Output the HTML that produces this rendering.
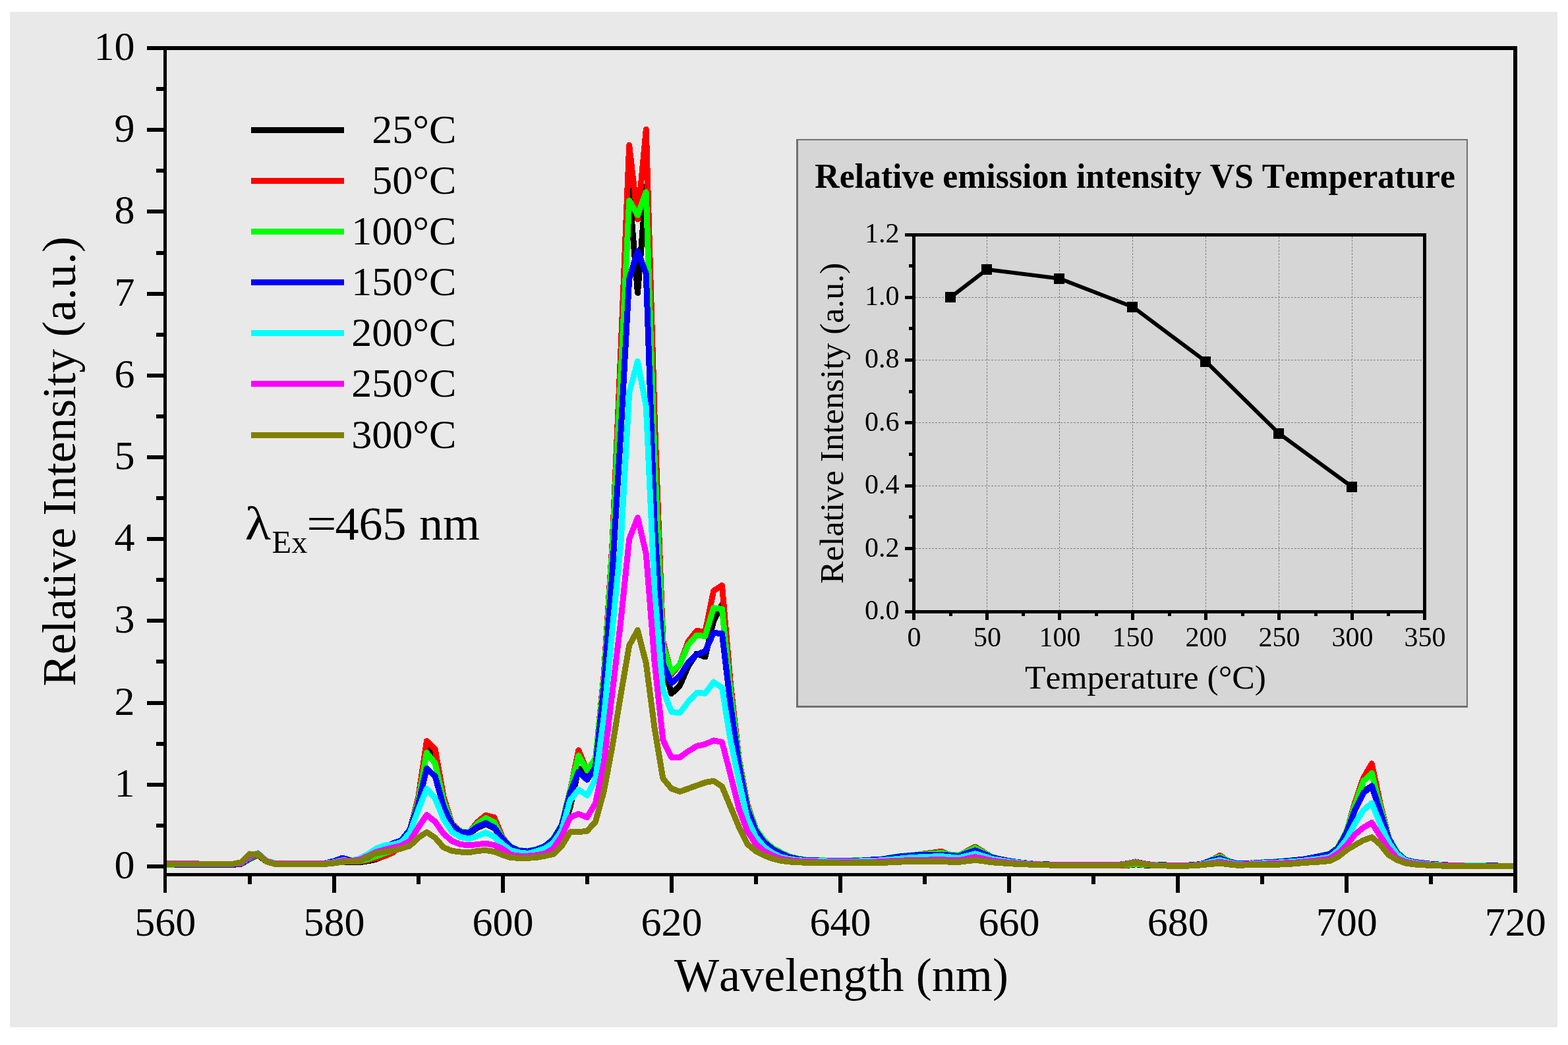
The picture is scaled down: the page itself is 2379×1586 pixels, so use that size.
<!DOCTYPE html>
<html lang="en"><head><meta charset="utf-8"><title>Relative Intensity vs Wavelength</title>
<style>html,body{margin:0;padding:0;background:#fff;overflow:hidden;}body{width:2379px;height:1586px;overflow:hidden;}svg{display:block;}text{font-family:'Liberation Serif', serif;fill:#000;font-kerning:none;font-variant-ligatures:none;}</style></head><body>
<svg width="2379" height="1586" viewBox="0 0 2379 1586">
<rect x="0" y="0" width="2379" height="1586" fill="#ffffff"/>
<rect x="15" y="18" width="2348" height="1541" fill="#e9e9e9"/>
<defs><clipPath id="pc"><rect x="253" y="76" width="2043" height="1249"/></clipPath></defs>
<g clip-path="url(#pc)" fill="none" stroke-width="9" stroke-linejoin="round" stroke-linecap="round" shape-rendering="crispEdges">
<polyline stroke="#000000" points="250.5,1312.5 263.3,1312.5 276.1,1312.5 288.9,1312.5 301.7,1312.5 314.5,1312.5 327.3,1312.5 340.1,1312.5 352.9,1312.5 365.7,1311.3 378.5,1303.8 391.3,1297.6 404.1,1307.5 416.9,1311.3 429.7,1311.3 442.5,1311.3 455.3,1311.3 468.2,1311.3 481.0,1311.3 493.8,1311.3 506.6,1310.0 519.4,1308.2 532.2,1308.8 545.0,1308.8 557.8,1306.9 570.6,1304.4 583.4,1298.2 596.2,1292.6 609.0,1284.0 621.8,1262.8 634.6,1215.6 647.4,1134.9 660.2,1153.5 673.0,1225.6 685.8,1252.9 698.6,1263.5 711.4,1265.3 724.2,1256.6 737.0,1250.4 749.8,1256.6 762.6,1274.0 775.4,1286.4 788.2,1292.0 801.0,1292.6 813.8,1290.2 826.6,1285.2 839.4,1275.3 852.2,1260.4 865.0,1225.6 877.8,1166.0 890.7,1178.4 903.5,1159.8 916.3,1035.5 929.1,843.0 941.9,582.2 954.7,287.9 967.5,444.4 980.3,282.9 993.1,706.4 1005.9,1004.5 1018.7,1052.9 1031.5,1040.5 1044.3,1010.7 1057.1,992.1 1069.9,997.0 1082.7,942.4 1095.5,917.6 1108.3,1060.4 1121.1,1158.5 1133.9,1225.6 1146.7,1260.4 1159.5,1279.0 1172.3,1289.5 1185.1,1296.4 1197.9,1301.3 1210.7,1304.4 1223.5,1305.7 1236.3,1306.0 1249.1,1306.4 1261.9,1306.7 1274.7,1307.1 1287.5,1306.6 1300.3,1306.2 1313.1,1305.7 1326.0,1305.3 1338.8,1304.6 1351.6,1302.6 1364.4,1300.7 1377.2,1299.5 1390.0,1298.5 1402.8,1297.9 1415.6,1297.6 1428.4,1297.4 1441.2,1298.9 1454.0,1300.1 1466.8,1295.7 1479.6,1291.4 1492.4,1296.4 1505.2,1302.0 1518.0,1304.4 1530.8,1306.9 1543.6,1308.8 1556.4,1310.0 1569.2,1312.2 1582.0,1312.6 1594.8,1313.0 1607.6,1313.1 1620.4,1313.2 1633.2,1313.2 1646.0,1313.3 1658.8,1313.4 1671.6,1313.4 1684.4,1313.4 1697.2,1313.4 1710.0,1313.5 1722.8,1311.8 1735.6,1313.0 1748.5,1313.4 1761.3,1313.7 1774.1,1314.0 1786.9,1314.3 1799.7,1313.9 1812.5,1313.6 1825.3,1311.3 1838.1,1306.3 1850.9,1301.3 1863.7,1308.2 1876.5,1311.0 1889.3,1311.3 1902.1,1310.5 1914.9,1309.7 1927.7,1309.0 1940.5,1308.3 1953.3,1307.2 1966.1,1305.9 1978.9,1304.4 1991.7,1302.0 2004.5,1299.5 2017.3,1297.0 2030.1,1288.3 2042.9,1265.3 2055.7,1228.1 2068.5,1200.7 2081.3,1193.3 2094.1,1230.5 2106.9,1274.0 2119.7,1295.1 2132.5,1305.7 2145.3,1308.8 2158.1,1310.2 2170.9,1311.5 2183.8,1312.5 2196.6,1313.5 2209.4,1313.6 2222.2,1313.7 2235.0,1313.8 2247.8,1313.9 2260.6,1314.1 2273.4,1314.2 2286.2,1314.3 2299.0,1314.4"/>
<polyline stroke="#ff0000" points="250.5,1312.5 263.3,1312.5 276.1,1312.5 288.9,1312.5 301.7,1312.5 314.5,1312.5 327.3,1312.5 340.1,1312.5 352.9,1312.5 365.7,1311.3 378.5,1302.6 391.3,1296.4 404.1,1306.9 416.9,1310.7 429.7,1310.7 442.5,1310.7 455.3,1310.7 468.2,1310.7 481.0,1310.7 493.8,1310.7 506.6,1309.4 519.4,1307.5 532.2,1307.5 545.0,1307.5 557.8,1305.7 570.6,1302.6 583.4,1299.5 596.2,1293.9 609.0,1282.7 621.8,1260.4 634.6,1210.7 647.4,1124.7 660.2,1137.0 673.0,1209.4 685.8,1250.4 698.6,1261.6 711.4,1264.1 724.2,1247.9 737.0,1237.3 749.8,1240.5 762.6,1271.5 775.4,1285.8 788.2,1291.4 801.0,1292.0 813.8,1289.5 826.6,1284.6 839.4,1274.0 852.2,1252.9 865.0,1200.7 877.8,1138.6 890.7,1169.7 903.5,1153.5 916.3,1023.1 929.1,824.4 941.9,532.5 954.7,220.2 967.5,332.6 980.3,196.5 993.1,631.9 1005.9,973.5 1018.7,1023.1 1031.5,1008.2 1044.3,973.5 1057.1,957.3 1069.9,959.2 1082.7,896.7 1095.5,888.5 1108.3,1036.8 1121.1,1151.1 1133.9,1220.6 1146.7,1257.9 1159.5,1276.5 1172.3,1287.7 1185.1,1294.5 1197.9,1300.5 1210.7,1303.2 1223.5,1305.1 1236.3,1305.5 1249.1,1305.9 1261.9,1306.4 1274.7,1306.8 1287.5,1306.4 1300.3,1305.9 1313.1,1305.5 1326.0,1305.1 1338.8,1304.1 1351.6,1301.6 1364.4,1299.6 1377.2,1298.9 1390.0,1297.4 1402.8,1295.7 1415.6,1294.1 1428.4,1292.3 1441.2,1297.6 1454.0,1298.9 1466.8,1291.9 1479.6,1285.2 1492.4,1293.1 1505.2,1301.1 1518.0,1304.1 1530.8,1306.8 1543.6,1308.5 1556.4,1310.0 1569.2,1311.9 1582.0,1312.4 1594.8,1312.8 1607.6,1312.8 1620.4,1312.9 1633.2,1313.0 1646.0,1313.1 1658.8,1313.1 1671.6,1313.1 1684.4,1313.1 1697.2,1313.1 1710.0,1313.1 1722.8,1311.3 1735.6,1312.5 1748.5,1313.1 1761.3,1313.4 1774.1,1313.7 1786.9,1314.0 1799.7,1313.7 1812.5,1313.4 1825.3,1310.9 1838.1,1305.7 1850.9,1298.2 1863.7,1307.5 1876.5,1310.7 1889.3,1310.8 1902.1,1309.5 1914.9,1309.3 1927.7,1308.7 1940.5,1307.9 1953.3,1306.8 1966.1,1305.6 1978.9,1304.1 1991.7,1301.6 2004.5,1299.1 2017.3,1296.6 2030.1,1287.4 2042.9,1262.8 2055.7,1218.1 2068.5,1180.9 2081.3,1158.9 2094.1,1219.4 2106.9,1270.9 2119.7,1293.9 2132.5,1305.3 2145.3,1308.4 2158.1,1310.0 2170.9,1311.5 2183.8,1312.5 2196.6,1313.4 2209.4,1313.5 2222.2,1313.6 2235.0,1313.8 2247.8,1313.9 2260.6,1314.0 2273.4,1314.1 2286.2,1314.3 2299.0,1314.4"/>
<polyline stroke="#00ff00" points="250.5,1312.5 263.3,1312.5 276.1,1312.5 288.9,1312.5 301.7,1312.5 314.5,1312.5 327.3,1312.5 340.1,1312.5 352.9,1312.5 365.7,1311.3 378.5,1302.6 391.3,1295.7 404.1,1306.9 416.9,1310.7 429.7,1310.7 442.5,1310.7 455.3,1310.7 468.2,1310.7 481.0,1310.7 493.8,1310.7 506.6,1309.4 519.4,1307.5 532.2,1307.5 545.0,1307.5 557.8,1303.8 570.6,1299.5 583.4,1295.1 596.2,1290.8 609.0,1281.5 621.8,1260.4 634.6,1215.6 647.4,1142.4 660.2,1158.5 673.0,1215.6 685.8,1251.7 698.6,1262.2 711.4,1263.5 724.2,1250.4 737.0,1241.7 749.8,1247.9 762.6,1272.8 775.4,1285.2 788.2,1290.8 801.0,1291.4 813.8,1288.9 826.6,1284.0 839.4,1273.4 852.2,1251.7 865.0,1199.5 877.8,1146.7 890.7,1169.1 903.5,1151.1 916.3,1029.3 929.1,830.6 941.9,569.8 954.7,304.4 967.5,326.4 980.3,291.6 993.1,694.0 1005.9,979.7 1018.7,1020.6 1031.5,1008.2 1044.3,978.4 1057.1,964.1 1069.9,965.6 1082.7,922.8 1095.5,924.3 1108.3,1049.2 1121.1,1153.5 1133.9,1223.1 1146.7,1257.9 1159.5,1275.9 1172.3,1287.1 1185.1,1293.9 1197.9,1300.1 1210.7,1303.0 1223.5,1305.1 1236.3,1305.5 1249.1,1305.9 1261.9,1306.3 1274.7,1306.7 1287.5,1306.2 1300.3,1305.7 1313.1,1305.3 1326.0,1304.8 1338.8,1303.9 1351.6,1301.5 1364.4,1299.5 1377.2,1298.6 1390.0,1297.2 1402.8,1296.4 1415.6,1295.5 1428.4,1294.4 1441.2,1297.0 1454.0,1298.2 1466.8,1292.6 1479.6,1286.8 1492.4,1293.6 1505.2,1300.8 1518.0,1303.9 1530.8,1306.7 1543.6,1308.5 1556.4,1310.0 1569.2,1311.8 1582.0,1312.2 1594.8,1312.6 1607.6,1312.7 1620.4,1312.8 1633.2,1312.9 1646.0,1312.9 1658.8,1313.0 1671.6,1313.0 1684.4,1313.0 1697.2,1313.0 1710.0,1312.8 1722.8,1310.8 1735.6,1312.3 1748.5,1313.0 1761.3,1313.3 1774.1,1313.6 1786.9,1313.9 1799.7,1313.6 1812.5,1313.3 1825.3,1310.7 1838.1,1305.1 1850.9,1300.1 1863.7,1306.6 1876.5,1310.4 1889.3,1310.7 1902.1,1309.9 1914.9,1308.9 1927.7,1308.3 1940.5,1307.5 1953.3,1306.4 1966.1,1305.2 1978.9,1303.8 1991.7,1301.3 2004.5,1298.7 2017.3,1296.1 2030.1,1285.8 2042.9,1261.6 2055.7,1221.8 2068.5,1185.8 2081.3,1173.5 2094.1,1224.3 2106.9,1271.5 2119.7,1293.3 2132.5,1305.1 2145.3,1308.2 2158.1,1309.7 2170.9,1311.3 2183.8,1312.3 2196.6,1313.3 2209.4,1313.4 2222.2,1313.5 2235.0,1313.7 2247.8,1313.8 2260.6,1314.0 2273.4,1314.1 2286.2,1314.2 2299.0,1314.4"/>
<polyline stroke="#0000ff" points="250.5,1311.9 263.3,1312.0 276.1,1312.1 288.9,1312.1 301.7,1312.2 314.5,1312.3 327.3,1312.4 340.1,1312.4 352.9,1312.5 365.7,1311.3 378.5,1301.3 391.3,1295.1 404.1,1306.3 416.9,1310.0 429.7,1310.0 442.5,1310.0 455.3,1310.0 468.2,1310.0 481.0,1310.0 493.8,1310.0 506.6,1306.9 519.4,1302.2 532.2,1305.7 545.0,1305.1 557.8,1301.3 570.6,1293.9 583.4,1287.7 596.2,1279.9 609.0,1275.4 621.8,1259.1 634.6,1220.6 647.4,1166.3 660.2,1178.4 673.0,1224.3 685.8,1252.4 698.6,1262.8 711.4,1264.1 724.2,1254.8 737.0,1249.2 749.8,1255.9 762.6,1273.5 775.4,1285.8 788.2,1291.4 801.0,1292.1 813.8,1289.5 826.6,1284.4 839.4,1274.0 852.2,1252.9 865.0,1203.8 877.8,1171.3 890.7,1183.3 903.5,1164.7 916.3,1041.8 929.1,867.9 941.9,656.7 954.7,423.2 967.5,381.0 980.3,415.8 993.1,793.4 1005.9,1007.0 1018.7,1036.8 1031.5,1025.6 1044.3,1005.7 1057.1,993.3 1069.9,988.4 1082.7,960.4 1095.5,961.7 1108.3,1069.1 1121.1,1161.0 1133.9,1227.4 1146.7,1261.1 1159.5,1278.4 1172.3,1288.9 1185.1,1295.7 1197.9,1301.0 1210.7,1303.8 1223.5,1305.7 1236.3,1305.9 1249.1,1306.1 1261.9,1306.3 1274.7,1306.6 1287.5,1306.6 1300.3,1306.6 1313.1,1305.6 1326.0,1304.7 1338.8,1304.2 1351.6,1302.0 1364.4,1300.1 1377.2,1298.9 1390.0,1297.9 1402.8,1297.4 1415.6,1297.1 1428.4,1297.0 1441.2,1298.2 1454.0,1299.5 1466.8,1295.1 1479.6,1290.7 1492.4,1295.7 1505.2,1301.3 1518.0,1304.1 1530.8,1306.6 1543.6,1308.4 1556.4,1309.8 1569.2,1311.3 1582.0,1311.7 1594.8,1312.1 1607.6,1312.2 1620.4,1312.3 1633.2,1312.4 1646.0,1312.4 1658.8,1312.5 1671.6,1312.5 1684.4,1312.5 1697.2,1312.5 1710.0,1310.7 1722.8,1308.0 1735.6,1310.7 1748.5,1312.5 1761.3,1312.8 1774.1,1313.1 1786.9,1313.4 1799.7,1313.1 1812.5,1312.8 1825.3,1310.4 1838.1,1305.7 1850.9,1302.7 1863.7,1307.5 1876.5,1310.4 1889.3,1310.7 1902.1,1310.0 1914.9,1309.2 1927.7,1308.5 1940.5,1307.8 1953.3,1306.7 1966.1,1305.4 1978.9,1303.9 1991.7,1301.5 2004.5,1298.9 2017.3,1296.4 2030.1,1287.1 2042.9,1264.1 2055.7,1229.8 2068.5,1203.6 2081.3,1192.7 2094.1,1231.8 2106.9,1272.8 2119.7,1294.5 2132.5,1305.3 2145.3,1308.2 2158.1,1309.7 2170.9,1311.3 2183.8,1312.1 2196.6,1313.0 2209.4,1313.2 2222.2,1313.4 2235.0,1313.5 2247.8,1313.7 2260.6,1313.9 2273.4,1314.0 2286.2,1314.2 2299.0,1314.4"/>
<polyline stroke="#00ffff" points="250.5,1311.3 263.3,1311.3 276.1,1311.3 288.9,1311.3 301.7,1311.3 314.5,1311.3 327.3,1311.3 340.1,1311.3 352.9,1311.3 365.7,1310.0 378.5,1300.1 391.3,1294.8 404.1,1306.3 416.9,1310.0 429.7,1310.0 442.5,1310.0 455.3,1310.0 468.2,1310.0 481.0,1310.0 493.8,1310.0 506.6,1308.8 519.4,1305.7 532.2,1306.3 545.0,1303.4 557.8,1296.4 570.6,1287.9 583.4,1283.1 596.2,1281.8 609.0,1278.0 621.8,1264.1 634.6,1229.3 647.4,1197.0 660.2,1211.7 673.0,1243.5 685.8,1262.8 698.6,1270.3 711.4,1273.1 724.2,1269.0 737.0,1263.8 749.8,1269.9 762.6,1281.5 775.4,1290.9 788.2,1294.0 801.0,1295.3 813.8,1292.1 826.6,1287.7 839.4,1279.0 852.2,1260.4 865.0,1214.6 877.8,1198.4 890.7,1207.1 903.5,1182.1 916.3,1087.7 929.1,954.8 941.9,824.4 954.7,595.9 967.5,548.3 980.3,617.0 993.1,897.7 1005.9,1046.7 1018.7,1080.4 1031.5,1082.0 1044.3,1065.1 1057.1,1051.3 1069.9,1052.3 1082.7,1035.2 1095.5,1043.7 1108.3,1123.7 1121.1,1184.6 1133.9,1242.7 1146.7,1270.3 1159.5,1285.6 1172.3,1294.8 1185.1,1300.8 1197.9,1303.8 1210.7,1305.7 1223.5,1306.3 1236.3,1306.6 1249.1,1306.9 1261.9,1307.2 1274.7,1307.5 1287.5,1307.3 1300.3,1307.1 1313.1,1306.8 1326.0,1306.6 1338.8,1305.5 1351.6,1304.4 1364.4,1303.2 1377.2,1302.0 1390.0,1301.2 1402.8,1300.3 1415.6,1300.0 1428.4,1299.6 1441.2,1300.8 1454.0,1302.1 1466.8,1298.9 1479.6,1295.7 1492.4,1299.5 1505.2,1303.6 1518.0,1305.7 1530.8,1307.8 1543.6,1309.0 1556.4,1310.3 1569.2,1311.6 1582.0,1312.0 1594.8,1312.4 1607.6,1312.5 1620.4,1312.5 1633.2,1312.6 1646.0,1312.7 1658.8,1312.8 1671.6,1312.8 1684.4,1312.8 1697.2,1312.8 1710.0,1310.9 1722.8,1308.5 1735.6,1310.9 1748.5,1312.8 1761.3,1313.1 1774.1,1313.3 1786.9,1313.6 1799.7,1313.3 1812.5,1313.0 1825.3,1311.3 1838.1,1308.2 1850.9,1305.3 1863.7,1308.8 1876.5,1311.3 1889.3,1311.3 1902.1,1310.7 1914.9,1310.0 1927.7,1309.5 1940.5,1309.0 1953.3,1308.1 1966.1,1307.2 1978.9,1306.1 1991.7,1304.6 2004.5,1302.8 2017.3,1300.8 2030.1,1290.8 2042.9,1274.0 2055.7,1250.0 2068.5,1229.8 2081.3,1218.9 2094.1,1250.4 2106.9,1278.4 2119.7,1296.4 2132.5,1306.3 2145.3,1309.4 2158.1,1310.7 2170.9,1312.0 2183.8,1312.8 2196.6,1313.5 2209.4,1313.6 2222.2,1313.7 2235.0,1313.8 2247.8,1313.9 2260.6,1314.1 2273.4,1314.2 2286.2,1314.3 2299.0,1314.4"/>
<polyline stroke="#ff00ff" points="250.5,1310.7 263.3,1310.7 276.1,1310.8 288.9,1310.9 301.7,1311.0 314.5,1311.0 327.3,1311.1 340.1,1311.2 352.9,1311.3 365.7,1310.0 378.5,1298.9 391.3,1295.7 404.1,1306.9 416.9,1310.7 429.7,1310.7 442.5,1310.7 455.3,1310.7 468.2,1310.7 481.0,1310.7 493.8,1310.7 506.6,1309.4 519.4,1306.9 532.2,1306.9 545.0,1305.1 557.8,1299.5 570.6,1293.3 583.4,1289.5 596.2,1286.4 609.0,1283.3 621.8,1276.5 634.6,1255.9 647.4,1236.8 660.2,1247.2 673.0,1265.3 685.8,1276.5 698.6,1281.5 711.4,1283.0 724.2,1281.5 737.0,1280.2 749.8,1282.5 762.6,1288.3 775.4,1297.4 788.2,1299.1 801.0,1299.1 813.8,1297.9 826.6,1295.3 839.4,1288.3 852.2,1269.0 865.0,1240.5 877.8,1235.3 890.7,1240.5 903.5,1219.0 916.3,1157.3 929.1,1050.5 941.9,942.4 954.7,818.2 967.5,785.5 980.3,840.6 993.1,1004.5 1005.9,1123.2 1018.7,1149.3 1031.5,1149.3 1044.3,1140.1 1057.1,1132.4 1069.9,1129.4 1082.7,1123.9 1095.5,1126.3 1108.3,1175.3 1121.1,1227.3 1133.9,1261.1 1146.7,1281.0 1159.5,1291.7 1172.3,1298.4 1185.1,1303.3 1197.9,1305.4 1210.7,1306.9 1223.5,1307.5 1236.3,1307.9 1249.1,1308.2 1261.9,1308.5 1274.7,1308.8 1287.5,1308.6 1300.3,1308.5 1313.1,1308.3 1326.0,1308.2 1338.8,1307.5 1351.6,1306.9 1364.4,1306.3 1377.2,1305.7 1390.0,1305.4 1402.8,1305.1 1415.6,1304.9 1428.4,1304.7 1441.2,1305.3 1454.0,1305.9 1466.8,1303.2 1479.6,1300.6 1492.4,1303.2 1505.2,1306.3 1518.0,1307.9 1530.8,1309.4 1543.6,1310.2 1556.4,1311.0 1569.2,1311.7 1582.0,1312.1 1594.8,1312.5 1607.6,1312.6 1620.4,1312.7 1633.2,1312.7 1646.0,1312.8 1658.8,1312.9 1671.6,1312.9 1684.4,1312.9 1697.2,1312.9 1710.0,1310.9 1722.8,1308.7 1735.6,1310.9 1748.5,1312.9 1761.3,1313.2 1774.1,1313.5 1786.9,1313.8 1799.7,1313.4 1812.5,1313.1 1825.3,1311.9 1838.1,1310.0 1850.9,1308.2 1863.7,1310.3 1876.5,1312.3 1889.3,1311.9 1902.1,1311.6 1914.9,1311.3 1927.7,1310.8 1940.5,1310.4 1953.3,1309.7 1966.1,1309.0 1978.9,1307.9 1991.7,1306.6 2004.5,1305.1 2017.3,1303.3 2030.1,1295.1 2042.9,1283.2 2055.7,1266.6 2068.5,1256.0 2081.3,1248.6 2094.1,1269.0 2106.9,1287.7 2119.7,1302.6 2132.5,1308.2 2145.3,1310.7 2158.1,1311.7 2170.9,1312.8 2183.8,1313.3 2196.6,1313.9 2209.4,1313.9 2222.2,1314.0 2235.0,1314.1 2247.8,1314.1 2260.6,1314.2 2273.4,1314.3 2286.2,1314.3 2299.0,1314.4"/>
<polyline stroke="#808000" points="250.5,1311.3 263.3,1311.3 276.1,1311.3 288.9,1311.3 301.7,1311.3 314.5,1311.3 327.3,1311.3 340.1,1311.3 352.9,1311.3 365.7,1308.8 378.5,1296.0 391.3,1296.4 404.1,1307.5 416.9,1311.3 429.7,1311.3 442.5,1311.3 455.3,1311.3 468.2,1311.3 481.0,1311.3 493.8,1311.3 506.6,1310.0 519.4,1308.2 532.2,1307.5 545.0,1307.5 557.8,1300.6 570.6,1295.1 583.4,1292.9 596.2,1290.9 609.0,1287.8 621.8,1283.7 634.6,1271.5 647.4,1263.0 660.2,1271.5 673.0,1286.2 685.8,1291.4 698.6,1293.0 711.4,1293.9 724.2,1291.4 737.0,1290.5 749.8,1292.6 762.6,1297.6 775.4,1301.8 788.2,1302.2 801.0,1302.2 813.8,1301.6 826.6,1299.1 839.4,1296.4 852.2,1284.0 865.0,1262.8 877.8,1262.8 890.7,1261.2 903.5,1247.2 916.3,1200.7 929.1,1132.4 941.9,1054.2 954.7,979.7 967.5,956.4 980.3,1007.0 993.1,1105.1 1005.9,1181.5 1018.7,1196.8 1031.5,1201.4 1044.3,1196.8 1057.1,1192.2 1069.9,1187.6 1082.7,1185.1 1095.5,1193.7 1108.3,1224.3 1121.1,1254.9 1133.9,1281.0 1146.7,1291.7 1159.5,1298.4 1172.3,1303.3 1185.1,1306.3 1197.9,1307.9 1210.7,1308.8 1223.5,1309.2 1236.3,1309.4 1249.1,1309.6 1261.9,1309.8 1274.7,1310.0 1287.5,1310.0 1300.3,1309.9 1313.1,1309.8 1326.0,1309.8 1338.8,1309.4 1351.6,1308.8 1364.4,1308.2 1377.2,1307.5 1390.0,1307.5 1402.8,1307.4 1415.6,1307.4 1428.4,1307.4 1441.2,1308.2 1454.0,1308.4 1466.8,1306.9 1479.6,1305.4 1492.4,1306.9 1505.2,1308.8 1518.0,1309.7 1530.8,1310.7 1543.6,1311.3 1556.4,1311.9 1569.2,1312.3 1582.0,1312.7 1594.8,1313.1 1607.6,1313.2 1620.4,1313.3 1633.2,1313.4 1646.0,1313.4 1658.8,1313.5 1671.6,1313.5 1684.4,1313.5 1697.2,1313.5 1710.0,1311.3 1722.8,1309.0 1735.6,1311.3 1748.5,1313.5 1761.3,1313.8 1774.1,1314.1 1786.9,1314.4 1799.7,1314.1 1812.5,1313.8 1825.3,1312.5 1838.1,1311.3 1850.9,1310.2 1863.7,1311.9 1876.5,1313.1 1889.3,1313.0 1902.1,1312.8 1914.9,1312.5 1927.7,1312.3 1940.5,1312.1 1953.3,1311.4 1966.1,1310.7 1978.9,1309.3 1991.7,1308.8 2004.5,1307.8 2017.3,1306.6 2030.1,1300.7 2042.9,1290.2 2055.7,1282.6 2068.5,1275.3 2081.3,1270.7 2094.1,1281.5 2106.9,1297.6 2119.7,1305.3 2132.5,1310.0 2145.3,1311.9 2158.1,1312.7 2170.9,1313.5 2183.8,1313.9 2196.6,1314.3 2209.4,1314.3 2222.2,1314.3 2235.0,1314.3 2247.8,1314.3 2260.6,1314.3 2273.4,1314.3 2286.2,1314.4 2299.0,1314.4"/>
</g>
<g fill="#000" shape-rendering="crispEdges">
<rect x="223" y="70" width="2079" height="6"/>
<rect x="248" y="1325" width="2054" height="5"/>
<rect x="248" y="70" width="5" height="1285"/>
<rect x="2296" y="70" width="6" height="1285"/>
<rect x="223" y="1312" width="25" height="6"/>
<rect x="237" y="1250" width="11" height="6"/>
<rect x="223" y="1188" width="25" height="6"/>
<rect x="237" y="1126" width="11" height="6"/>
<rect x="223" y="1064" width="25" height="6"/>
<rect x="237" y="1001" width="11" height="6"/>
<rect x="223" y="939" width="25" height="6"/>
<rect x="237" y="877" width="11" height="6"/>
<rect x="223" y="815" width="25" height="6"/>
<rect x="237" y="753" width="11" height="6"/>
<rect x="223" y="691" width="25" height="6"/>
<rect x="237" y="629" width="11" height="6"/>
<rect x="223" y="567" width="25" height="6"/>
<rect x="237" y="505" width="11" height="6"/>
<rect x="223" y="443" width="25" height="6"/>
<rect x="237" y="381" width="11" height="6"/>
<rect x="223" y="318" width="25" height="6"/>
<rect x="237" y="256" width="11" height="6"/>
<rect x="223" y="194" width="25" height="6"/>
<rect x="237" y="132" width="11" height="6"/>
<rect x="376" y="1330" width="6" height="12"/>
<rect x="504" y="1330" width="6" height="25"/>
<rect x="632" y="1330" width="6" height="12"/>
<rect x="760" y="1330" width="6" height="25"/>
<rect x="888" y="1330" width="6" height="12"/>
<rect x="1016" y="1330" width="6" height="25"/>
<rect x="1144" y="1330" width="6" height="12"/>
<rect x="1272" y="1330" width="6" height="25"/>
<rect x="1400" y="1330" width="6" height="12"/>
<rect x="1528" y="1330" width="6" height="25"/>
<rect x="1656" y="1330" width="6" height="12"/>
<rect x="1784" y="1330" width="6" height="25"/>
<rect x="1912" y="1330" width="6" height="12"/>
<rect x="2040" y="1330" width="6" height="25"/>
<rect x="2168" y="1330" width="6" height="12"/>
</g>
<g font-size="62" text-anchor="end">
<text x="204.4" y="1332.9">0</text>
<text x="204.4" y="1208.9">1</text>
<text x="204.4" y="1084.9">2</text>
<text x="204.4" y="959.9">3</text>
<text x="204.4" y="835.9">4</text>
<text x="204.4" y="711.9">5</text>
<text x="204.4" y="587.9">6</text>
<text x="204.4" y="463.9">7</text>
<text x="204.4" y="338.9">8</text>
<text x="204.4" y="214.9">9</text>
<text x="204.4" y="90.9">10</text>
</g>
<g font-size="62" text-anchor="middle">
<text x="250.8" y="1419.6">560</text>
<text x="506.9" y="1419.6">580</text>
<text x="762.9" y="1419.6">600</text>
<text x="1019.0" y="1419.6">620</text>
<text x="1275.0" y="1419.6">640</text>
<text x="1531.1" y="1419.6">660</text>
<text x="1787.2" y="1419.6">680</text>
<text x="2043.2" y="1419.6">700</text>
<text x="2299.3" y="1419.6">720</text>
</g>
<text id="xt" x="1276.5" y="1503.5" font-size="72.2" text-anchor="middle">Wavelength (nm)</text>
<text id="yt" transform="translate(114.4,700.2) rotate(-90)" font-size="72.3" text-anchor="middle">Relative Intensity (a.u.)</text>
<g shape-rendering="crispEdges">
<rect x="381" y="193" width="141" height="9" fill="#000000"/>
<rect x="381" y="270" width="141" height="9" fill="#ff0000"/>
<rect x="381" y="347" width="141" height="9" fill="#00ff00"/>
<rect x="381" y="424" width="141" height="9" fill="#0000ff"/>
<rect x="381" y="501" width="141" height="9" fill="#00ffff"/>
<rect x="381" y="578" width="141" height="9" fill="#ff00ff"/>
<rect x="381" y="656" width="141" height="9" fill="#808000"/>
</g>
<g font-size="62" text-anchor="end">
<text x="692.3" y="217.1">25°C</text>
<text x="692.3" y="294.1">50°C</text>
<text x="692.3" y="371.1">100°C</text>
<text x="692.3" y="448.1">150°C</text>
<text x="692.3" y="525.1">200°C</text>
<text x="692.3" y="602.1">250°C</text>
<text x="692.3" y="680.1">300°C</text>
</g>
<text y="819.2" font-size="72"><tspan x="371.6" textLength="39.5" lengthAdjust="spacingAndGlyphs">λ</tspan><tspan x="412.6" dy="19.7" font-size="48.5">Ex</tspan><tspan x="465.3" dy="-19.7" textLength="45.3" lengthAdjust="spacingAndGlyphs">=</tspan><tspan x="508.4">465 </tspan><tspan x="636">nm</tspan></text>
<rect x="1208" y="211" width="1019" height="863" fill="#707070"/>
<rect x="1211" y="213" width="1014" height="858" fill="#d6d6d6"/>
<text id="it" x="1236.3" y="284.8" font-size="51.75" font-weight="bold">Relative emission intensity VS Temperature</text>
<g stroke="#808080" stroke-width="1" stroke-dasharray="3 2" fill="none" shape-rendering="crispEdges">
<line x1="1497.5" y1="359" x2="1497.5" y2="926"/>
<line x1="1607.5" y1="359" x2="1607.5" y2="926"/>
<line x1="1718.5" y1="359" x2="1718.5" y2="926"/>
<line x1="1829.5" y1="359" x2="1829.5" y2="926"/>
<line x1="1940.5" y1="359" x2="1940.5" y2="926"/>
<line x1="2051.5" y1="359" x2="2051.5" y2="926"/>
<line x1="1389" y1="832.5" x2="2159" y2="832.5"/>
<line x1="1389" y1="737.5" x2="2159" y2="737.5"/>
<line x1="1389" y1="641.5" x2="2159" y2="641.5"/>
<line x1="1389" y1="546.5" x2="2159" y2="546.5"/>
<line x1="1389" y1="451.5" x2="2159" y2="451.5"/>
</g>
<g fill="#000" shape-rendering="crispEdges">
<rect x="1373" y="354" width="791" height="5"/>
<rect x="1373" y="926" width="791" height="5"/>
<rect x="1384" y="354" width="5" height="587"/>
<rect x="2159" y="354" width="5" height="587"/>
<rect x="1379" y="878" width="5" height="5"/>
<rect x="1373" y="830" width="11" height="5"/>
<rect x="1379" y="782" width="5" height="5"/>
<rect x="1373" y="735" width="11" height="5"/>
<rect x="1379" y="687" width="5" height="5"/>
<rect x="1373" y="639" width="11" height="5"/>
<rect x="1379" y="592" width="5" height="5"/>
<rect x="1373" y="544" width="11" height="5"/>
<rect x="1379" y="496" width="5" height="5"/>
<rect x="1373" y="449" width="11" height="5"/>
<rect x="1379" y="401" width="5" height="5"/>
<rect x="1440" y="931" width="5" height="4"/>
<rect x="1495" y="931" width="5" height="10"/>
<rect x="1550" y="931" width="5" height="4"/>
<rect x="1605" y="931" width="5" height="10"/>
<rect x="1661" y="931" width="5" height="4"/>
<rect x="1716" y="931" width="5" height="10"/>
<rect x="1772" y="931" width="5" height="4"/>
<rect x="1827" y="931" width="5" height="10"/>
<rect x="1883" y="931" width="5" height="4"/>
<rect x="1938" y="931" width="5" height="10"/>
<rect x="1994" y="931" width="5" height="4"/>
<rect x="2049" y="931" width="5" height="10"/>
<rect x="2104" y="931" width="5" height="4"/>
</g>
<polyline fill="none" stroke="#000" stroke-width="6" stroke-linejoin="round" points="1442.0,451.4 1497.5,408.9 1607.5,422.8 1718.5,465.7 1829.5,548.7 1940.5,657.9 2051.5,739.0"/>
<g fill="#000" shape-rendering="crispEdges">
<rect x="1434" y="443" width="16" height="16"/>
<rect x="1489" y="401" width="16" height="16"/>
<rect x="1599" y="415" width="16" height="16"/>
<rect x="1710" y="458" width="16" height="16"/>
<rect x="1821" y="541" width="16" height="16"/>
<rect x="1932" y="650" width="16" height="16"/>
<rect x="2043" y="731" width="16" height="16"/>
</g>
<g font-size="42" text-anchor="end">
<text x="1364.4" y="940.0">0.0</text>
<text x="1364.4" y="844.6">0.2</text>
<text x="1364.4" y="749.2">0.4</text>
<text x="1364.4" y="653.8">0.6</text>
<text x="1364.4" y="558.4">0.8</text>
<text x="1364.4" y="463.0">1.0</text>
<text x="1364.4" y="367.6">1.2</text>
</g>
<g font-size="42" text-anchor="middle">
<text x="1387.0" y="980.8">0</text>
<text x="1498.0" y="980.8">50</text>
<text x="1608.0" y="980.8">100</text>
<text x="1719.0" y="980.8">150</text>
<text x="1830.0" y="980.8">200</text>
<text x="1941.0" y="980.8">250</text>
<text x="2052.0" y="980.8">300</text>
<text x="2162.0" y="980.8">350</text>
</g>
<text id="ixt" x="1738" y="1045.2" font-size="51.6" text-anchor="middle">Temperature (°C)</text>
<text id="iyt" transform="translate(1278.8,642.4) rotate(-90)" font-size="51.6" text-anchor="middle">Relative Intensity (a.u.)</text>
</svg>
</body></html>
